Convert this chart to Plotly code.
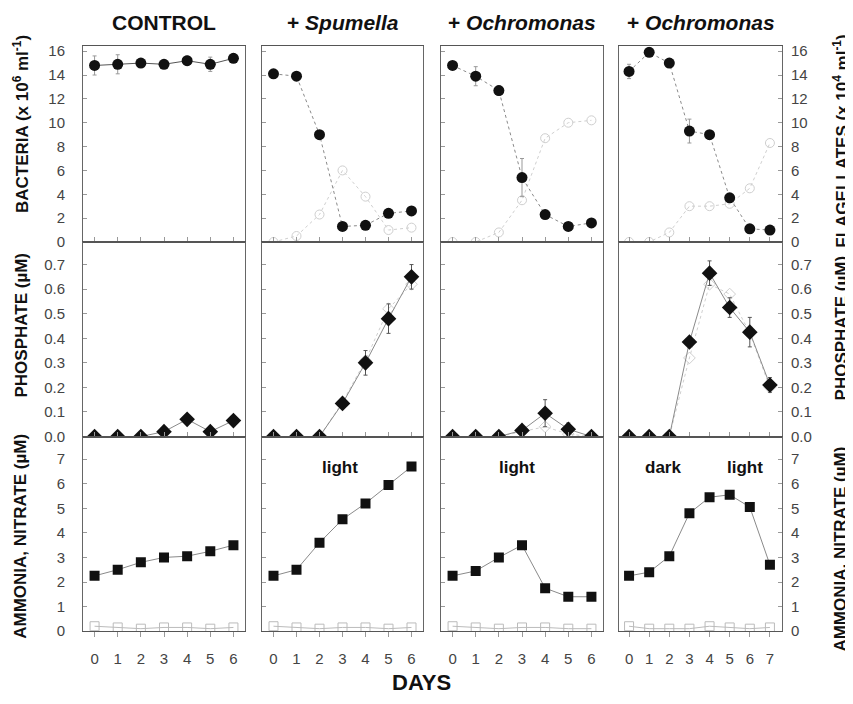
import plotly.graph_objects as go

# The page body has a default 8px margin; reference pixel coordinates are shifted by it.
OFF = 8
W, H = 853 - OFF, 704 - OFF

panel_titles = ["CONTROL", "+ <i>Spumella</i>", "+ <i>Ochromonas</i>", "+ <i>Ochromonas</i>"]
days = [[0, 1, 2, 3, 4, 5, 6], [0, 1, 2, 3, 4, 5, 6], [0, 1, 2, 3, 4, 5, 6], [0, 1, 2, 3, 4, 5, 6, 7]]

bacteria = [
    [14.8, 14.9, 15.0, 14.9, 15.2, 14.9, 15.4],
    [14.1, 13.9, 9.0, 1.3, 1.4, 2.4, 2.6],
    [14.8, 13.9, 12.7, 5.4, 2.3, 1.3, 1.6],
    [14.3, 15.9, 15.0, 9.3, 9.0, 3.7, 1.1, 1.0],
]
bacteria_err = [
    [0.8, 0.8, 0.3, 0.3, 0.4, 0.6, 0.3],
    [0.2, 0.3, 0.3, 0.2, 0.2, 0.2, 0.2],
    [0.3, 0.8, 0.4, 1.6, 0.3, 0.2, 0.2],
    [0.6, 0.2, 0.3, 1.0, 0.3, 0.3, 0.2, 0.2],
]
flagellates = [
    [None] * 7,
    [0.0, 0.5, 2.3, 6.0, 3.8, 1.0, 1.2],
    [0.0, 0.0, 0.8, 3.5, 8.7, 10.0, 10.2],
    [0.0, 0.0, 0.8, 3.0, 3.0, 3.2, 4.5, 8.3],
]
phosphate = [
    [0.0, 0.0, 0.0, 0.02, 0.07, 0.02, 0.065],
    [0.0, 0.0, 0.0, 0.135, 0.30, 0.48, 0.65],
    [0.0, 0.0, 0.0, 0.025, 0.095, 0.03, 0.0],
    [0.0, 0.0, 0.0, 0.385, 0.665, 0.525, 0.425, 0.21],
]
phosphate_err = [
    [0.0, 0.0, 0.0, 0.005, 0.01, 0.01, 0.01],
    [0.0, 0.0, 0.0, 0.01, 0.05, 0.06, 0.05],
    [0.0, 0.0, 0.0, 0.01, 0.055, 0.025, 0.0],
    [0.0, 0.0, 0.0, 0.01, 0.05, 0.04, 0.06, 0.03],
]
phosphate_dark = [
    [None] * 7,
    [0.0, 0.0, 0.0, 0.14, 0.31, 0.52, 0.62],
    [0.0, 0.0, 0.0, 0.02, 0.04, 0.01, 0.0],
    [0.0, 0.0, 0.0, 0.32, 0.62, 0.58, 0.42, 0.20],
]
ammonia = [
    [2.25, 2.5, 2.8, 3.0, 3.05, 3.25, 3.5],
    [2.25, 2.5, 3.6, 4.55, 5.2, 5.95, 6.7],
    [2.25, 2.45, 3.0, 3.5, 1.75, 1.4, 1.4],
    [2.25, 2.4, 3.05, 4.8, 5.45, 5.55, 5.05, 2.7],
]
nitrate = [
    [0.2, 0.15, 0.1, 0.15, 0.15, 0.1, 0.15],
    [0.2, 0.15, 0.1, 0.15, 0.15, 0.1, 0.15],
    [0.2, 0.15, 0.1, 0.15, 0.15, 0.1, 0.1],
    [0.2, 0.1, 0.1, 0.1, 0.2, 0.15, 0.1, 0.15],
]
light_labels = [
    [],
    [("light", 2.9, 6.65)],
    [("light", 2.8, 6.65)],
    [("dark", 1.7, 6.65), ("light", 5.75, 6.65)],
]

row_titles_left = ["BACTERIA (x 10<sup>6</sup> ml<sup>-1</sup>)", "PHOSPHATE (µM)", "AMMONIA, NITRATE (µM)"]
row_titles_right = ["FLAGELLATES (x 10<sup>4</sup> ml<sup>-1</sup>)", "PHOSPHATE (µM)", "AMMONIA, NITRATE (µM)"]
y_ranges = [[0, 16.4], [0, 0.792], [0, 7.92]]
y_ticks = [[0, 2, 4, 6, 8, 10, 12, 14, 16],
           [0, 0.1, 0.2, 0.3, 0.4, 0.5, 0.6, 0.7],
           [0, 1, 2, 3, 4, 5, 6, 7]]
y_tickformat = ["d", ".1f", "d"]
x_ranges = [[-0.5, 6.5], [-0.5, 6.5], [-0.5, 6.5], [-0.5, 7.6]]

# panel edges in reference-screen pixels
col_px = [(83, 245), (262, 423), (441, 603), (619, 782)]
row_px = [(43, 242), (242, 440), (440, 638)]


def px(v):
    return (v - OFF) / W


def py(v):
    return 1 - (v - OFF) / H


FONT = "Liberation Sans, Arial, sans-serif"
fig = go.Figure()
layout = {}

dark = "#111111"
faint = "#cfcfcf"
linec = "#8a8a8a"

for r in range(3):
    for c in range(4):
        k = r * 4 + c + 1
        xa = "x" if k == 1 else f"x{k}"
        ya = "y" if k == 1 else f"y{k}"
        x0, x1 = col_px[c]
        y0, y1 = row_px[r]
        layout["xaxis" if k == 1 else f"xaxis{k}"] = dict(
            domain=[px(x0), px(x1)], range=x_ranges[c], anchor=ya,
            tickmode="array", tickvals=days[c],
            showticklabels=(r == 2), ticks="outside" if r == 2 else "inside", ticklen=5,
            ticklabelstandoff=9,
            tickcolor="#999", showgrid=False, zeroline=False,
            showline=True, linecolor="#555", linewidth=1, mirror=True,
            tickfont=dict(family=FONT, size=15, color="#444"), fixedrange=True,
        )
        layout["yaxis" if k == 1 else f"yaxis{k}"] = dict(
            domain=[py(y1), py(y0)], range=y_ranges[r], anchor=xa,
            tickmode="array", tickvals=y_ticks[r], tickformat=y_tickformat[r],
            showticklabels=(c in (0, 3)), side="right" if c == 3 else "left",
            ticklabelstandoff=14 if c == 0 else 5,
            ticks="inside", ticklen=4, tickcolor="#999",
            showgrid=False, zeroline=False,
            showline=True, linecolor="#666", linewidth=1, mirror=True,
            tickfont=dict(family=FONT, size=15, color="#444"), fixedrange=True,
        )

        d = days[c]
        if r == 0:
            if any(v is not None for v in flagellates[c]):
                fig.add_trace(go.Scatter(x=d, y=flagellates[c], xaxis=xa, yaxis=ya, mode="lines+markers",
                                         line=dict(color=faint, width=1, dash="dot"),
                                         marker=dict(symbol="circle-open", size=9, color=faint, line=dict(width=1)),
                                         showlegend=False))
            fig.add_trace(go.Scatter(x=d, y=bacteria[c], xaxis=xa, yaxis=ya, mode="lines+markers",
                                     line=dict(color=linec if c else "#555", width=1, dash="dot" if c else "solid"),
                                     marker=dict(symbol="circle", size=11, color=dark),
                                     error_y=dict(type="data", array=bacteria_err[c], color="#999", thickness=1, width=2),
                                     showlegend=False))
        elif r == 1:
            if any(v is not None for v in phosphate_dark[c]):
                fig.add_trace(go.Scatter(x=d, y=phosphate_dark[c], xaxis=xa, yaxis=ya, mode="lines+markers",
                                         line=dict(color=faint, width=1, dash="dot"),
                                         marker=dict(symbol="diamond-open", size=9, color=faint, line=dict(width=1)),
                                         showlegend=False))
            fig.add_trace(go.Scatter(x=d, y=phosphate[c], xaxis=xa, yaxis=ya, mode="lines+markers",
                                     line=dict(color=linec, width=1),
                                     marker=dict(symbol="diamond", size=12, color=dark),
                                     error_y=dict(type="data", array=phosphate_err[c], color="#555", thickness=1, width=2),
                                     showlegend=False))
        else:
            fig.add_trace(go.Scatter(x=d, y=nitrate[c], xaxis=xa, yaxis=ya, mode="lines+markers",
                                     line=dict(color="#bbbbbb", width=1),
                                     marker=dict(symbol="square-open", size=9, color="#bbbbbb", line=dict(width=1)),
                                     showlegend=False))
            fig.add_trace(go.Scatter(x=d, y=ammonia[c], xaxis=xa, yaxis=ya, mode="lines+markers",
                                     line=dict(color=linec, width=1),
                                     marker=dict(symbol="square", size=10, color=dark),
                                     showlegend=False))
            for txt, lx, ly in light_labels[c]:
                fig.add_annotation(x=lx, y=ly, xref=xa, yref=ya, text=f"<b>{txt}</b>", showarrow=False,
                                   xanchor="center", yanchor="middle",
                                   font=dict(family=FONT, size=17, color="#111"))

annotations = []
for c in range(4):
    x0, x1 = col_px[c]
    annotations.append(dict(x=px((x0 + x1) / 2), y=py(19), xref="paper", yref="paper",
                            text=f"<b>{panel_titles[c]}</b>", showarrow=False,
                            xanchor="center", yanchor="middle",
                            font=dict(family=FONT, size=21, color="#111")))
left_centers = [122, 327, 542]
right_centers = [140, 330, 555]
for r in range(3):
    annotations.append(dict(x=px(21), y=py(left_centers[r]), xref="paper", yref="paper",
                            text=f"<b>{row_titles_left[r]}</b>", textangle=-90, showarrow=False,
                            xanchor="center", yanchor="middle",
                            font=dict(family=FONT, size=17, color="#111")))
    annotations.append(dict(x=px(841), y=py(right_centers[r]), xref="paper", yref="paper",
                            text=f"<b>{row_titles_right[r]}</b>", textangle=-90, showarrow=False,
                            xanchor="center", yanchor="middle",
                            font=dict(family=FONT, size=17, color="#111")))
annotations.append(dict(x=px(421), y=py(690), xref="paper", yref="paper", text="<b>DAYS</b>",
                        xanchor="center", yanchor="middle",
                        showarrow=False, font=dict(family=FONT, size=22, color="#111")))

fig.update_layout(**layout)
for a in annotations:
    fig.add_annotation(**a)
fig.update_layout(width=W, height=H, margin=dict(l=0, r=0, t=0, b=0),
                  paper_bgcolor="white", plot_bgcolor="white", showlegend=False)
fig.write_html("out.html")
